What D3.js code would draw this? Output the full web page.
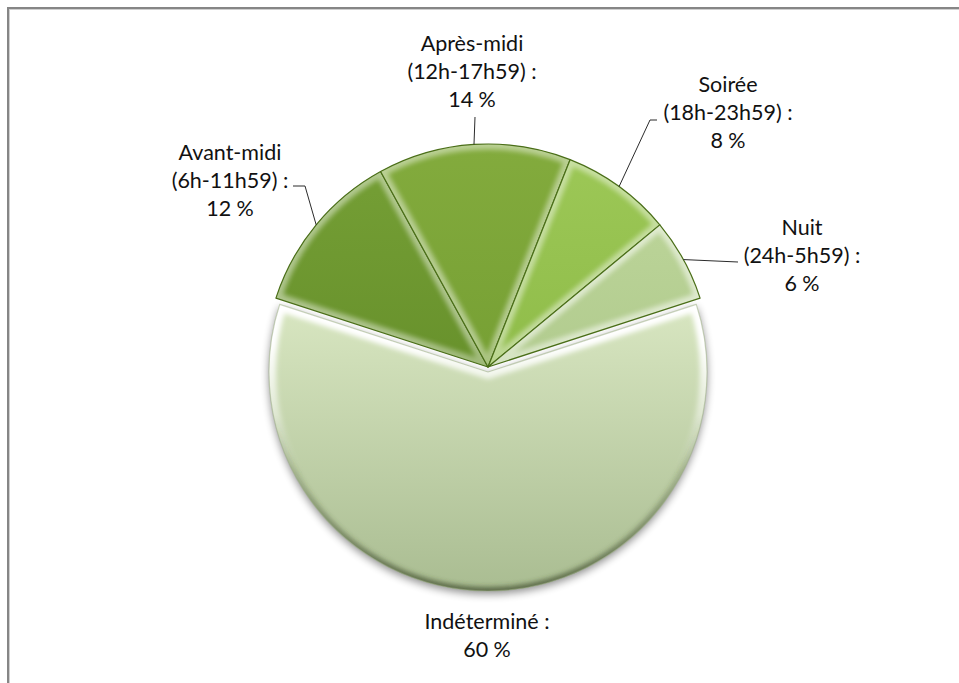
<!DOCTYPE html>
<html lang="fr">
<head>
<meta charset="utf-8">
<script src="https://cdn.jsdelivr.net/npm/d3@7"></script>
<style>
  html, body { margin: 0; padding: 0; background: #fff; }
  svg { display: block; }
  text { font-family: Lato, "Open Sans", "Liberation Sans", sans-serif; fill: #111; }
</style>
</head>
<body>
<svg id="chart" width="959" height="683"></svg>
<script>
// Répartition des incidents selon le moment de la journée
const categories = ["Avant-midi", "Après-midi", "Soirée", "Nuit", "Indéterminé"];
const timeRanges = ["(6h-11h59) :", "(12h-17h59) :", "(18h-23h59) :", "(24h-5h59) :", ""];
const shares = [12, 14, 8, 6, 60];

// Slice colours: [light, dark] for each vertical gradient, and its vertical span
const sliceColors = [
  ["#76a036", "#5a8322"],
  ["#83ab3d", "#6a952b"],
  ["#9dc857", "#82b13c"],
  ["#c0d89d", "#a3bf80"],
  ["#d8e6c1", "#a9bc91"]
];
const gradientSpan = [[-1, 1], [-1, 1], [-1, 1], [-1, 1], [-0.3, 1]];
const highlightStrength = [0.45, 0.45, 0.45, 0.55, 1];

const W = 959, H = 683;
const cx = 488, cy = 367, R = 223;
const explode = [0, 0, 0, 0, 5];
const radiusFor = [R, R, R, R, R - 4];

// Text block placement (centre x, first baseline y) and leader elbows
const labelLayout = [
  { x: 230, y: 160, elbow: [[293, 186], [305, 186]] },
  { x: 472, y: 51,  elbow: [[475, 117]] },
  { x: 728, y: 92,  elbow: [[657, 120], [650, 120]] },
  { x: 802, y: 235, elbow: [[738, 262]] },
  { x: 487, y: 629, elbow: null }
];
const lineGap = 28;

const svg = d3.select("#chart");
const defs = svg.append("defs");

// Frame
svg.append("rect").attr("x", 8).attr("y", 8).attr("width", W + 20).attr("height", H + 20)
  .attr("fill", "none").attr("stroke", "#868686").attr("stroke-width", 2);
svg.append("rect").attr("x", 9.5).attr("y", 9.5).attr("width", W + 20).attr("height", H + 20)
  .attr("fill", "none").attr("stroke", "#cfcfcf").attr("stroke-width", 1);

// Filters
const soft = defs.append("filter").attr("id", "soft")
  .attr("x", "-10%").attr("y", "-10%").attr("width", "120%").attr("height", "120%");
soft.append("feGaussianBlur").attr("stdDeviation", 2.5);

const shadow = defs.append("filter").attr("id", "shadow")
  .attr("color-interpolation-filters", "sRGB")
  .attr("x", "-10%").attr("y", "-10%").attr("width", "120%").attr("height", "125%");
shadow.append("feGaussianBlur").attr("in", "SourceAlpha").attr("stdDeviation", 4).attr("result", "b");
shadow.append("feOffset").attr("in", "b").attr("dy", 3).attr("result", "o");
shadow.append("feComponentTransfer").attr("in", "o").append("feFuncA").attr("type", "linear").attr("slope", 0.45);

// Fill gradients
sliceColors.forEach((c, i) => {
  const g = defs.append("linearGradient").attr("id", "grad" + i)
    .attr("gradientUnits", "userSpaceOnUse")
    .attr("x1", 0).attr("y1", gradientSpan[i][0] * R)
    .attr("x2", 0).attr("y2", gradientSpan[i][1] * R);
  g.append("stop").attr("offset", "0%").attr("stop-color", c[0]);
  g.append("stop").attr("offset", "100%").attr("stop-color", c[1]);
});

// Edge lighting: light from above, dark towards the bottom rim
const lightGrad = defs.append("linearGradient").attr("id", "edgeLight")
  .attr("gradientUnits", "userSpaceOnUse")
  .attr("x1", 0).attr("y1", -R).attr("x2", 0).attr("y2", R * 0.45);
lightGrad.append("stop").attr("offset", "0%").attr("stop-color", "#fff").attr("stop-opacity", 1);
lightGrad.append("stop").attr("offset", "60%").attr("stop-color", "#fff").attr("stop-opacity", 1);
lightGrad.append("stop").attr("offset", "100%").attr("stop-color", "#fff").attr("stop-opacity", 0);

const darkGrad = defs.append("linearGradient").attr("id", "edgeDark")
  .attr("gradientUnits", "userSpaceOnUse")
  .attr("x1", 0).attr("y1", R * 0.2).attr("x2", 0).attr("y2", R);
darkGrad.append("stop").attr("offset", "0%").attr("stop-color", "#3e4b2c").attr("stop-opacity", 0);
darkGrad.append("stop").attr("offset", "100%").attr("stop-color", "#3e4b2c").attr("stop-opacity", 0.75);

const pie = d3.pie().sort(null).value(d => d)
  .startAngle(-0.4 * Math.PI).endAngle(1.6 * Math.PI);
const arcs = pie(shares);

const offsetOf = (d, i) => {
  const a = (d.startAngle + d.endAngle) / 2;
  return [Math.sin(a) * explode[i], -Math.cos(a) * explode[i]];
};
const arcPath = (d, i) => d3.arc().innerRadius(0).outerRadius(radiusFor[i])(d);

const pieG = svg.append("g").attr("transform", `translate(${cx},${cy})`);

// soft shadow under the large slice
pieG.append("g").attr("filter", "url(#shadow)")
  .selectAll("path").data(arcs.filter((d, i) => i === 4)).join("path")
  .attr("transform", d => `translate(${offsetOf(d, 4)})`)
  .attr("d", d => arcPath(d, 4))
  .attr("fill", "#000");

arcs.forEach((d, i) => {
  defs.append("clipPath").attr("id", "clip" + i)
    .append("path").attr("d", arcPath(d, i));
});

const slices = pieG.selectAll("g.slice").data(arcs).join("g")
  .attr("class", "slice")
  .attr("transform", (d, i) => `translate(${offsetOf(d, i)})`);

slices.append("path")
  .attr("d", arcPath)
  .attr("fill", (d, i) => `url(#grad${i})`);

// bevel: inner glow along the edges, clipped to each slice
const bevel = slices.append("g").attr("clip-path", (d, i) => `url(#clip${i})`);
bevel.append("path")
  .attr("d", arcPath)
  .attr("fill", "none")
  .attr("stroke", "url(#edgeLight)")
  .attr("stroke-width", (d, i) => i === 4 ? 14 : 11)
  .attr("opacity", (d, i) => highlightStrength[i])
  .attr("filter", "url(#soft)");
bevel.append("path")
  .attr("d", arcPath)
  .attr("fill", "none")
  .attr("stroke", "url(#edgeDark)")
  .attr("stroke-width", 8)
  .attr("filter", "url(#soft)");

// slice outlines (the large slice keeps only a faint rim)
slices.append("path")
  .attr("d", arcPath)
  .attr("fill", "none")
  .attr("stroke", (d, i) => i === 4 ? "#9aab84" : "#4a6e18")
  .attr("stroke-opacity", (d, i) => i === 4 ? 0.5 : 1)
  .attr("stroke-width", 1.2)
  .attr("stroke-linejoin", "round");

// Leader lines
const rim = d3.arc().innerRadius(R).outerRadius(R);
const leaders = svg.append("g").attr("fill", "none").attr("stroke", "#2b2b2b").attr("stroke-width", 1);
arcs.forEach((d, i) => {
  const lay = labelLayout[i];
  if (!lay.elbow) return;
  const c = rim.centroid(d);
  const pts = lay.elbow.concat([[cx + c[0], cy + c[1]]]);
  leaders.append("path").attr("d", d3.line()(pts));
});

// Labels
const labels = svg.append("g").attr("font-size", 21.5).attr("text-anchor", "middle");
arcs.forEach((d, i) => {
  const lay = labelLayout[i];
  const lines = timeRanges[i]
    ? [categories[i], timeRanges[i], shares[i] + "\u00A0%"]
    : [categories[i] + " :", shares[i] + "\u00A0%"];
  const t = labels.append("text").attr("x", lay.x).attr("y", lay.y);
  lines.forEach((s, k) => {
    t.append("tspan").attr("x", lay.x).attr("y", lay.y + k * lineGap).text(s);
  });
});
</script>
</body>
</html>
